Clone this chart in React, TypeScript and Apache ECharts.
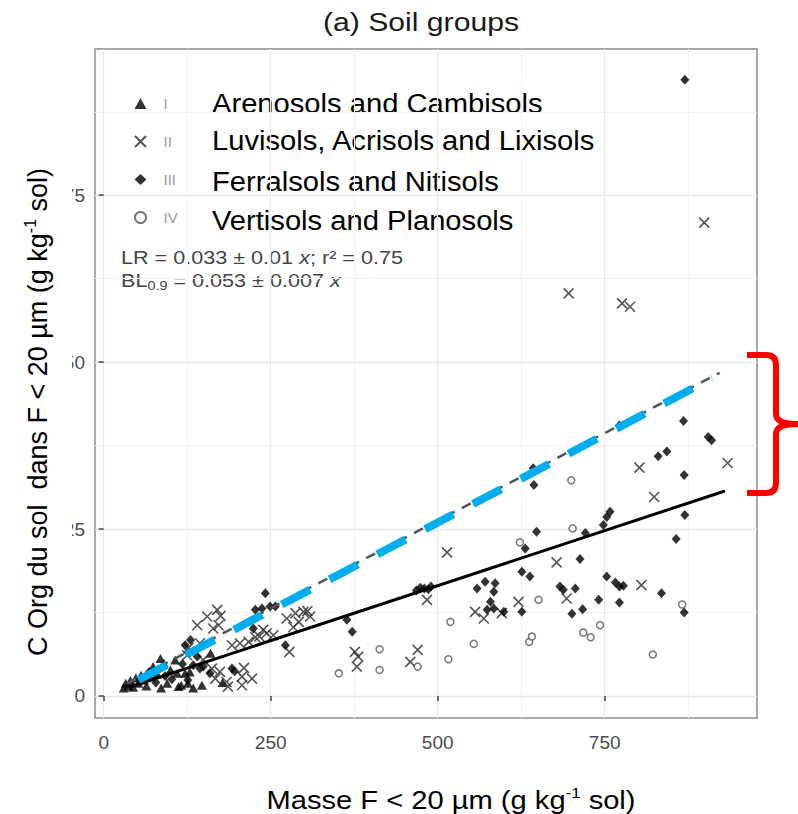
import React, { useEffect, useRef } from 'react';
import * as echarts from 'echarts';

const groupNames = ['I', 'II', 'III', 'IV'];
const groupLabels = [
  'Arenosols and Cambisols',
  'Luvisols, Acrisols and Lixisols',
  'Ferralsols and Nitisols',
  'Vertisols and Planosols',
];
const xTicks = [0, 250, 500, 750];
const xMinorTicks = [125, 375, 625, 875];
const yTicks = [0, 25, 50, 75];
const yMinorTicks = [12.5, 37.5, 62.5, 87.5];

const groupI = [[30,1.2],[33,1.9],[37,1.5],[40,2.3],[44,1.3],[48,2.7],[52,1.9],[56,3.1],[60,2.4],[64,1.5],[70,2.9],[74,4.4],[80,3.3],[85,5.6],[86,1.2],[90,4.9],[95,1.9],[100,3.9],[107,5.4],[110,3.4],[112,1.4],[116,1.6],[122,3.4],[126,1.9],[129,3.6],[134,1.2],[147,1.6],[160,6.4],[178,2.0]];
const groupII = [[125,6.1],[127,7.2],[140,10.6],[144,7.9],[149,5.4],[155,11.9],[162,4.1],[164,10.1],[167,2.6],[170,12.9],[172,10.6],[174,3.6],[175,12.0],[184,2.1],[186,1.4],[192,7.6],[204,7.9],[207,2.9],[207,1.6],[210,4.2],[217,8.1],[222,2.6],[227,8.8],[233,8.9],[239,9.9],[244,9.4],[254,9.1],[274,11.6],[278,6.6],[284,10.3],[287,12.4],[292,11.1],[299,12.6],[305,12.7],[309,11.9],[376,6.6],[381,5.9],[379,4.4],[459,5.1],[470,6.9],[484,14.4],[514,21.5],[556,12.6],[569,11.6],[596,12.4],[621,14.1],[678,20.0],[693,14.6],[696,60.3],[776,58.8],[788,58.3],[802,34.2],[805,16.6],[824,29.8],[899,70.9],[934,34.9]];
const groupIII = [[55,2.2],[68,3.6],[78,2.0],[92,3.0],[102,2.5],[118,4.8],[122,7.6],[126,2.4],[130,8.4],[134,4.6],[140,5.9],[144,4.1],[149,4.4],[159,3.4],[192,4.1],[196,3.7],[224,10.1],[227,12.9],[237,13.1],[242,15.4],[249,13.4],[257,13.4],[272,7.6],[364,11.4],[372,9.6],[468,15.8],[474,16.2],[480,16.1],[486,16.0],[490,16.4],[559,16.1],[571,17.1],[574,12.9],[579,14.1],[584,15.6],[584,13.1],[586,16.9],[599,12.6],[626,18.6],[626,12.6],[631,22.1],[638,17.9],[643,34.1],[644,31.6],[648,24.6],[683,16.4],[688,15.9],[701,12.3],[706,16.1],[713,20.5],[717,13.0],[721,24.4],[741,14.4],[748,25.6],[753,26.8],[753,17.9],[758,27.6],[766,17.0],[772,16.4],[778,16.5],[772,14.0],[772,40.5],[830,35.9],[835,15.4],[843,36.6],[857,23.5],[868,41.2],[869,33.1],[869,12.5],[870,27.1],[870,92.3],[905,38.8],[910,38.3]];
const groupIV = [[352,3.4],[413,7.0],[413,3.9],[470,4.4],[516,5.5],[519,11.1],[554,7.8],[623,23.0],[637,8.1],[641,8.9],[651,14.4],[700,32.3],[702,25.1],[718,9.5],[729,8.8],[743,10.6],[822,6.2],[866,13.7]];

const lrLine = [[38, 1.3], [930, 30.7]];
const blLine = [[35, 1.85], [922, 48.4]];
const blueLine = [[52, 2.4], [911, 47.6]];

const titleText = '(a) Soil groups';
const formulaLR = 'LR = 0.033 ± 0.01 {i|x}; r² = 0.75';
const formulaBL = 'BL{sub|0.9} = 0.053 ± 0.007 {i|x}';
const yTitle = 'C Org du sol  dans F < 20 µm (g kg{sup|-1} sol)';
const xTitle = 'Masse F < 20 µm (g kg{sup|-1} sol)';

const X_MIN = -13, X_MAX = 978, Y_MIN = -3.3, Y_MAX = 96.9;
const FONT = '"Liberation Sans", Arial, Helvetica, sans-serif';
const BRACE_D = 'M747,355 L766,355 Q776,355 776,365 L776,414 Q776,424 797,424 Q776,424 776,434 L776,483 Q776,493 766,493 L747,493';

const descY = [104, 141, 182, 221];

export default function App() {
  const ref = useRef<HTMLDivElement>(null);
  useEffect(() => {
    if (!ref.current) return;
    try {
      echarts.graphic.registerShape('brace', echarts.graphic.extendPath(BRACE_D, {}));
    } catch (e) {}
    const chart = echarts.init(ref.current, null, { renderer: 'svg' });

    const minorAxisX = {
      type: 'value', min: X_MIN, max: X_MAX, gridIndex: 0, position: 'top',
      axisLine: { show: false }, axisLabel: { show: false },
      axisTick: { show: false, customValues: xMinorTicks },
      splitLine: { show: true, lineStyle: { color: '#f3f3f3', width: 1 } },
    };
    const minorAxisY = {
      type: 'value', min: Y_MIN, max: Y_MAX, gridIndex: 0, position: 'right',
      axisLine: { show: false }, axisLabel: { show: false },
      axisTick: { show: false, customValues: yMinorTicks },
      splitLine: { show: true, lineStyle: { color: '#f3f3f3', width: 1 } },
    };

    const option: any = {
      animation: false,
      backgroundColor: '#fff',
      textStyle: { fontFamily: FONT },
      grid: { left: 95, top: 49, width: 662, height: 669, show: true, borderColor: '#8c8c8c', borderWidth: 1.5 },
      xAxis: [
        {
          type: 'value', min: X_MIN, max: X_MAX,
          axisLine: { show: false },
          axisTick: { show: true, length: 5, inside: false, customValues: xTicks, lineStyle: { color: '#444', width: 1.5 } },
          axisLabel: { customValues: xTicks, color: '#4d4d4d', fontSize: 19, margin: 15, fontFamily: FONT },
          splitLine: { show: true, lineStyle: { color: '#e8e8e8', width: 1.3 } },
        },
        minorAxisX,
      ],
      yAxis: [
        {
          type: 'value', min: Y_MIN, max: Y_MAX,
          axisLine: { show: false },
          axisTick: { show: true, length: 5, customValues: yTicks, lineStyle: { color: '#444', width: 1.5 } },
          axisLabel: { customValues: yTicks, color: '#4d4d4d', fontSize: 19, margin: 10, fontFamily: FONT },
          splitLine: { show: true, lineStyle: { color: '#e8e8e8', width: 1.3 } },
        },
        minorAxisY,
      ],
      legend: {
        orient: 'vertical', left: 134, top: 96, padding: 0,
        itemWidth: 12, itemHeight: 11, itemGap: 23,
        selectedMode: false,
        data: groupNames,
        formatter: (n: string) => `{n|${n}}`,
        textStyle: {
          fontFamily: FONT,
          rich: { n: { color: '#9a9a9a', fontSize: 15, lineHeight: 16, padding: [0, 0, 0, 12], fontFamily: FONT } },
        },
      },
      series: [
        {
          type: 'scatter', name: 'I', data: groupI, symbol: 'triangle', symbolSize: [10, 9],
          itemStyle: { color: '#000' },
        },
        {
          type: 'scatter', name: 'II', data: groupII, symbol: 'path://M0,0L10,10M10,0L0,10', symbolSize: 10,
          itemStyle: { color: 'rgba(0,0,0,0)', borderColor: '#2a2a2a', borderWidth: 1.6 },
        },
        {
          type: 'scatter', name: 'III', data: groupIII, symbol: 'diamond', symbolSize: [9, 10],
          itemStyle: { color: '#000' },
        },
        {
          type: 'scatter', name: 'IV', data: groupIV, symbol: 'circle', symbolSize: 7,
          itemStyle: { color: '#fff', borderColor: '#555', borderWidth: 1.5 },
        },
        {
          type: 'line', name: 'LR', data: lrLine, showSymbol: false, symbol: 'none',
          lineStyle: { color: '#000', width: 3 }, silent: true,
        },
        {
          type: 'line', name: 'BL', data: blLine, showSymbol: false, symbol: 'none',
          lineStyle: { color: '#555', width: 2.5, type: [10, 8] }, silent: true,
        },
        {
          type: 'line', name: 'BLblue', data: blueLine, showSymbol: false, symbol: 'none',
          lineStyle: { color: '#00aeef', width: 8, type: [32, 22], cap: 'butt' }, silent: true,
        },
      ],
      graphic: [
        {
          type: 'text', x: 421, y: 22, scaleX: 1.16,
          style: { text: titleText, font: `26px ${FONT}`, fill: '#1a1a1a', align: 'center', verticalAlign: 'middle' },
        },
        ...groupLabels.map((t, i) => ({
          type: 'text', x: 212, y: descY[i], scaleX: 1.08,
          style: { text: t, font: `27px ${FONT}`, fill: '#000', align: 'left', verticalAlign: 'middle' },
        })),
        {
          type: 'text', x: 121, y: 258, scaleX: 1.2,
          style: {
            text: formulaLR, font: `18px ${FONT}`, fill: '#444', align: 'left', verticalAlign: 'middle',
            rich: { i: { font: `italic 18px ${FONT}`, fill: '#444' } },
          },
        },
        {
          type: 'text', x: 121, y: 281, scaleX: 1.2,
          style: {
            text: formulaBL, font: `18px ${FONT}`, fill: '#444', align: 'left', verticalAlign: 'middle', lineHeight: 22,
            rich: {
              i: { font: `italic 18px ${FONT}`, fill: '#444', lineHeight: 22 },
              sub: { font: `12px ${FONT}`, fill: '#444', verticalAlign: 'bottom', lineHeight: 22 },
            },
          },
        },
        {
          type: 'rect', z: 50, shape: { x: 0, y: 150, width: 72, height: 420 },
          style: { fill: '#fff' },
        },
        {
          type: 'text', z: 60, x: 38, y: 412, rotation: Math.PI / 2,
          style: {
            text: yTitle, font: `27px ${FONT}`, fill: '#000', align: 'center', verticalAlign: 'middle', lineHeight: 32,
            rich: { sup: { font: `16px ${FONT}`, fill: '#000', verticalAlign: 'top', lineHeight: 32 } },
          },
        },
        {
          type: 'text', z: 60, x: 451, y: 800, scaleX: 1.12,
          style: {
            text: xTitle, font: `26px ${FONT}`, fill: '#000', align: 'center', verticalAlign: 'middle', lineHeight: 30,
            rich: { sup: { font: `15px ${FONT}`, fill: '#000', verticalAlign: 'top', lineHeight: 30 } },
          },
        },
        {
          type: 'brace', z: 60, x: 0, y: 0,
          style: { fill: 'none', stroke: '#ff0000', lineWidth: 6, lineJoin: 'round' },
        },
      ],
    };
    chart.setOption(option);
    return () => chart.dispose();
  }, []);
  return <div ref={ref} style={{ position: 'absolute', left: 0, top: 0, width: 798, height: 814 }} />;
}
